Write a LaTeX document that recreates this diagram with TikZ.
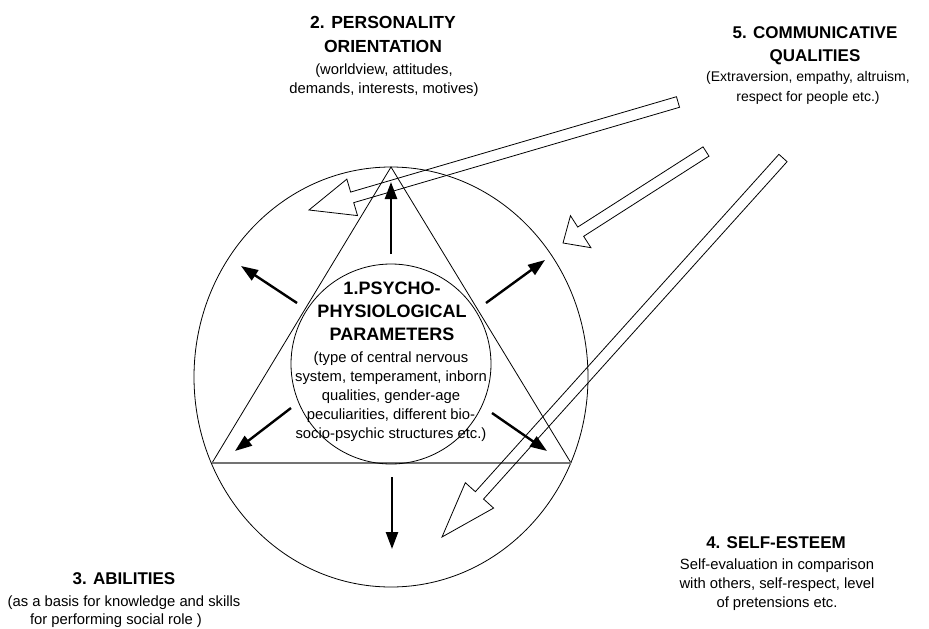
\documentclass[tikz,border=0pt]{standalone}
\usepackage{fontspec}
\setmainfont{Liberation Sans}
\usetikzlibrary{arrows.meta,calc}
\newcommand\hollowarrow[5]{% tail, tip, head length, shaft half width, head half width
  \coordinate (hb) at ($(#2)!#3!(#1)$);
  \draw[hollowline] ($(#1)!#4!90:(#2)$) -- ($(hb)!#4!90:(#2)$) -- ($(hb)!#5!90:(#2)$)
    -- (#2) -- ($(hb)!#5!-90:(#2)$) -- ($(hb)!#4!-90:(#2)$) -- ($(#1)!#4!-90:(#2)$) -- cycle;}
\begin{document}
\begin{tikzpicture}[x=1pt,y=-1pt,
  outline/.style={draw=black,line width=0.8pt},
  baseline/.style={draw=black!55,line width=1.6pt},
  hollowline/.style={draw=black,line width=0.8pt,line join=miter},
  blackarrow/.style={draw=black,line width=2.4pt,-{Triangle[length=17pt,width=12pt]}},
  titletext/.style={font=\bfseries\fontsize{17}{23.5}\selectfont,align=center,inner sep=0pt,anchor=north},
  desctext/.style={font=\fontsize{14.8}{19.5}\selectfont,align=center,inner sep=0pt,anchor=north}]
\useasboundingbox (0,0) rectangle (929,629);
% outer ellipse and triangle
\coordinate (apex) at (391,167);
\coordinate (bl) at (212,463);
\coordinate (br) at (571,463);
\draw[outline] (391,377) ellipse [x radius=197, y radius=210];
\draw[outline] (bl) -- (apex) -- (br);
\draw[baseline] (bl) -- (br);
% inner circle
\node[outline,circle,minimum size=200pt,inner sep=0pt] (core) at (391,364) {};
% black arrows
\coordinate (a1s) at (391,254); \coordinate (a1e) at (391,182);
\coordinate (a2s) at (297,303); \coordinate (a2e) at (241,266);
\coordinate (a3s) at (486,303); \coordinate (a3e) at (545,260);
\coordinate (a4s) at (291,408); \coordinate (a4e) at (235,451);
\coordinate (a5s) at (492,413); \coordinate (a5e) at (547,451);
\coordinate (a6s) at (392,477); \coordinate (a6e) at (392,549);
\foreach \i in {1,...,6} {\draw[blackarrow] (a\i s) -- (a\i e);}
% hollow arrows
\coordinate (hAt) at (678,102); \coordinate (hAp) at (309,210);
\coordinate (hBt) at (706,151.5); \coordinate (hBp) at (563,243);
\coordinate (hCt) at (783,158); \coordinate (hCp) at (442,537);
\hollowarrow{hAt}{hAp}{45pt}{5.5pt}{19pt}
\hollowarrow{hBt}{hBp}{21pt}{5.5pt}{19pt}
\hollowarrow{hCt}{hCp}{56pt}{5.5pt}{19pt}
% texts
\node[titletext,font=\bfseries\fontsize{17.5}{23.5}\selectfont] (t2) at (383,16.5) {2. PERSONALITY\\ORIENTATION};
\node[desctext] (d2) at (384,63.2) {(worldview, attitudes,\\demands, interests, motives)};
\node[titletext,font=\bfseries\fontsize{17}{23}\selectfont] (t5) at (815,26.8) {5. COMMUNICATIVE\\QUALITIES};
\node[desctext,font=\fontsize{14}{19.5}\selectfont] (d5) at (808,71.5) {(Extraversion, empathy, altruism,\\respect for people etc.)};
\node[titletext,font=\bfseries\fontsize{18}{23}\selectfont] (t1) at (392,282) {1.PSYCHO-\\PHYSIOLOGICAL\\PARAMETERS};
\node[desctext,font=\fontsize{14.8}{19}\selectfont] (d1) at (391,351.2) {(type of central nervous\\system, temperament, inborn\\qualities, gender-age\\peculiarities, different bio-\\socio-psychic structures etc.)};
\node[titletext,font=\bfseries\fontsize{17}{23}\selectfont] (t3) at (124,572.5) {3. ABILITIES};
\node[desctext,font=\fontsize{14.8}{18.5}\selectfont] (d3) at (124,595.2) {(as a basis for knowledge and skills\\for performing social role )\hspace*{16pt}};
\node[titletext,font=\bfseries\fontsize{17}{23}\selectfont] (t4) at (776,536.8) {4. SELF-ESTEEM};
\node[desctext,font=\fontsize{14.8}{19}\selectfont] (d4) at (777,558.2) {Self-evaluation in comparison\\with others, self-respect, level\\of pretensions etc.};
\end{tikzpicture}
\end{document}
